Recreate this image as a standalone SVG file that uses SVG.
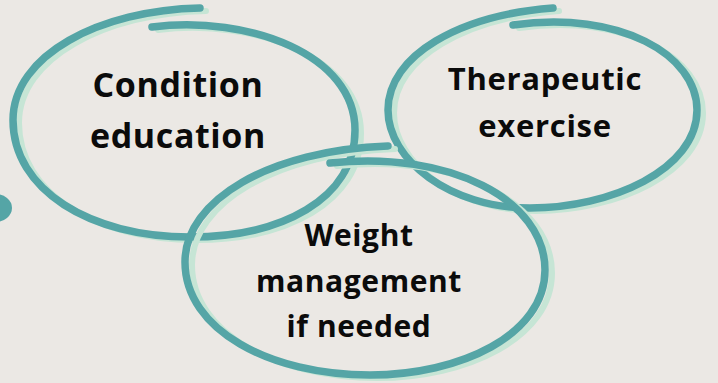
<svg xmlns="http://www.w3.org/2000/svg" width="718" height="383" viewBox="0 0 718 383">
<style>
.teal{fill:none;stroke:#55a5a6;stroke-width:7.5;stroke-linecap:round}
.mint{fill:none;stroke:#c6e5d5;stroke-width:6;stroke-linecap:round}
.lbl{font-family:"Open Sans","Liberation Sans",sans-serif;font-weight:700;fill:#0b0b0b;text-anchor:middle}
</style>
<rect width="718" height="383" fill="#ebe8e4"/>
<ellipse cx="-5" cy="208" rx="17" ry="14" fill="#55a5a6"/>
<g id="condition">
<path class="mint" transform="translate(6,3)" d="M152,27 C250,15 355,55 355,130 C355,200 280,237 190,237 C90,237 13,190 13,120 C13,55 100,10 200,8"/>
<path class="teal" d="M152,27 C250,15 355,55 355,130 C355,200 280,237 190,237 C90,237 13,190 13,120 C13,55 100,10 200,8"/>
<text class="lbl" x="178" y="97" font-size="34" letter-spacing="0.6">Condition</text>
<text class="lbl" x="178" y="148" font-size="34" letter-spacing="0.6">education</text>
</g>
<g id="therapeutic">
<path class="mint" transform="translate(6,3)" d="M513,25 C620,10 697,55 697,110 C697,170 610,208 530,208 C450,208 388,160 388,110 C388,55 460,15 553,8"/>
<path class="teal" d="M513,25 C620,10 697,55 697,110 C697,170 610,208 530,208 C450,208 388,160 388,110 C388,55 460,15 553,8"/>
<text class="lbl" x="545" y="90" font-size="31" letter-spacing="0.7">Therapeutic</text>
<text class="lbl" x="545" y="137" font-size="31" letter-spacing="0.7">exercise</text>
</g>
<g id="weight">
<path class="mint" transform="translate(7,3)" d="M330,163 C450,150 545,200 545,270 C545,335 460,375 370,375 C270,375 185,330 185,262 C185,200 270,150 388,146"/>
<path class="teal" d="M330,163 C450,150 545,200 545,270 C545,335 460,375 370,375 C270,375 185,330 185,262 C185,200 270,150 388,146"/>
<text class="lbl" x="359" y="246" font-size="30" letter-spacing="0.6">Weight</text>
<text class="lbl" x="359" y="292" font-size="30" letter-spacing="0.6">management</text>
<text class="lbl" x="359" y="337" font-size="30" letter-spacing="0.6">if needed</text>
</g>
<g id="connectors"/>
</svg>
